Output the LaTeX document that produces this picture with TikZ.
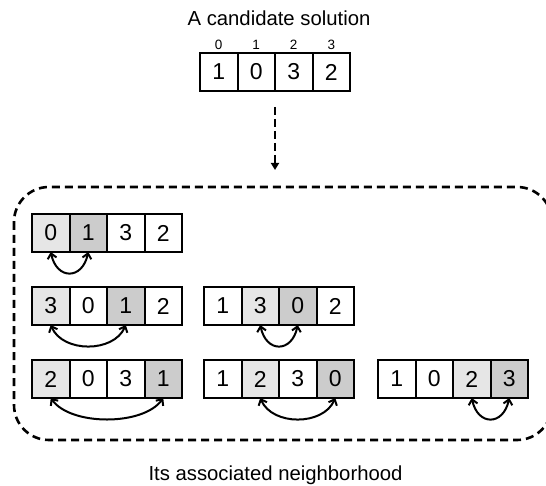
\documentclass[tikz,border=0pt]{standalone}
\usepackage{fontspec}
\setmainfont{Liberation Sans}
\usetikzlibrary{positioning,arrows.meta}

\definecolor{grigiochiaro}{RGB}{230,230,230}
\definecolor{grigioscuro}{RGB}{204,204,204}

\begin{document}
\begin{tikzpicture}[x=1pt, y=-1pt,
    cella/.style={draw, line width=2pt, minimum width=37.5pt, minimum height=38pt,
        inner sep=0pt, outer sep=0pt, font=\fontsize{23}{27}\selectfont},
    primo/.style={cella, fill=grigiochiaro},
    secondo/.style={cella, fill=grigioscuro},
    indice/.style={font=\fontsize{13.5}{16}\selectfont},
    titolo/.style={font=\fontsize{20.3}{24}\selectfont, anchor=base},
    scambio/.style={line width=2pt,
        {Straight Barb[length=5pt,width=9pt]}-{Straight Barb[length=5pt,width=9pt]}}
]

    \useasboundingbox (0,0) rectangle (546,486);

    % Soluzione candidata
    \node[titolo] (tit) at (279,26) {A candidate solution};
    \node[cella] (s0) at (218.75,72) {1};
    \node[cella, right=0pt of s0] (s1) {0};
    \node[cella, right=0pt of s1] (s2) {3};
    \node[cella, right=0pt of s2] (s3) {2};

    % Indici
    \node[indice] (i0) at (218.75,44.5) {0};
    \node[indice] (i1) at (256.25,44.5) {1};
    \node[indice] (i2) at (293.75,44.5) {2};
    \node[indice] (i3) at (331.25,44.5) {3};

    % Vicinato
    \draw[line width=2.6pt, dash pattern=on 8pt off 5pt, rounded corners=35pt]
        (14,187) rectangle (552,440);
    \coordinate (cima) at (275,187);
    \node[titolo] (nome) at (275.5,480) {Its associated neighborhood};

    % Freccia tratteggiata
    \draw[line width=2.6pt, dash pattern=on 8pt off 4pt, -{Triangle[length=7pt,width=8pt]},
        shorten <=16pt, shorten >=17pt]
        (s1.south east) -- (cima);

    % Prima riga
    \node[primo] (a0) at (50.75,233) {0};
    \node[secondo, right=0pt of a0] (a1) {1};
    \node[cella, right=0pt of a1] (a2) {3};
    \node[cella, right=0pt of a2] (a3) {2};

    % Seconda riga
    \node[primo] (b0) at (50.75,306) {3};
    \node[cella, right=0pt of b0] (b1) {0};
    \node[secondo, right=0pt of b1] (b2) {1};
    \node[cella, right=0pt of b2] (b3) {2};

    \node[cella] (c0) at (222.75,306) {1};
    \node[primo, right=0pt of c0] (c1) {3};
    \node[secondo, right=0pt of c1] (c2) {0};
    \node[cella, right=0pt of c2] (c3) {2};

    % Terza riga
    \node[primo] (d0) at (50.75,379) {2};
    \node[cella, right=0pt of d0] (d1) {0};
    \node[cella, right=0pt of d1] (d2) {3};
    \node[secondo, right=0pt of d2] (d3) {1};

    \node[cella] (e0) at (222.75,379) {1};
    \node[primo, right=0pt of e0] (e1) {2};
    \node[cella, right=0pt of e1] (e2) {3};
    \node[secondo, right=0pt of e2] (e3) {0};

    \node[cella] (f0) at (396.75,379) {1};
    \node[cella, right=0pt of f0] (f1) {0};
    \node[primo, right=0pt of f1] (f2) {2};
    \node[secondo, right=0pt of f2] (f3) {3};

    % Scambi
    \draw[scambio] (a0.south) .. controls +(6,28) and +(-6,28) .. (a1.south);
    \draw[scambio] (b0.south) .. controls +(12,28) and +(-12,28) .. (b2.south);
    \draw[scambio] (c1.south) .. controls +(6,28) and +(-6,28) .. (c2.south);
    \draw[scambio] (d0.south) .. controls +(20,28) and +(-20,28) .. (d3.south);
    \draw[scambio] (e1.south) .. controls +(12,28) and +(-12,28) .. (e3.south);
    \draw[scambio] (f2.south) .. controls +(6,28) and +(-6,28) .. (f3.south);

\end{tikzpicture}
\end{document}
